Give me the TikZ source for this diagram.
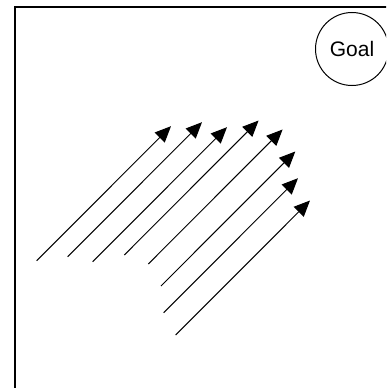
\documentclass[tikz,border=0pt]{standalone}
\usepackage{fontspec}
\setsansfont{Liberation Sans}
\usetikzlibrary{arrows.meta}

\tikzset{
  flow/.style={-{Triangle[length=16pt,width=14pt]}, line width=1pt},
  goal/.style={circle, draw, line width=1pt, minimum size=73pt, inner sep=0pt,
    font=\sffamily\fontsize{21pt}{25pt}\selectfont}
}

\begin{document}
\begin{tikzpicture}[x=1pt, y=-1pt]
  \useasboundingbox (0,0) rectangle (386,388);
  \clip (0,0) rectangle (386,388);
  % Field border
  \draw[line width=2.5pt] (15,420) |- (420,7);
  % Goal
  \node[goal] (goal) at (352,49) {Goal};
  % Arrows
  \foreach \x/\y [count=\i] in {36.7/260.7, 67.7/256.7, 92.7/261.7, 124.3/255,
      148.3/264, 161/286, 163.7/312.7, 175.7/335} {
    \coordinate (tail\i) at (\x,\y);
    \coordinate (head\i) at (\x+134.3,\y-134.5);
    \draw[flow] (tail\i) -- (head\i);
  }
\end{tikzpicture}
\end{document}
